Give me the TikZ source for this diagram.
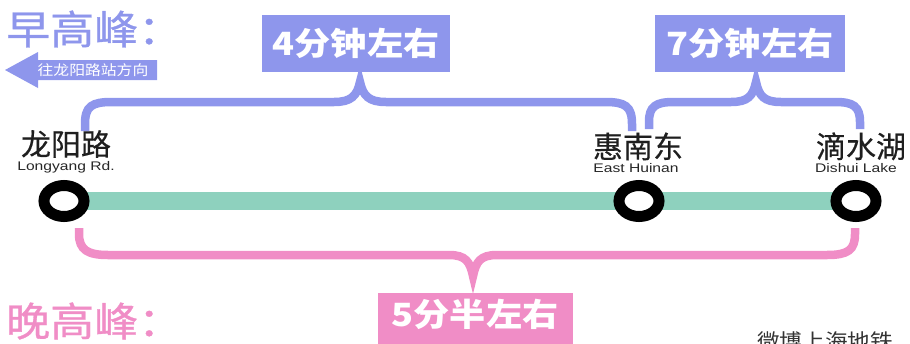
\documentclass[tikz,border=0pt]{standalone}
\usepackage{fontspec}
\setmainfont{Liberation Sans}[FakeStretch=1.25]
\newfontfamily\cjk{Noto Sans CJK SC}[FakeBold=0.4]
\newfontfamily\cjkwide{Noto Sans CJK SC}[FakeStretch=1.13]
\newfontfamily\cjkhead{Noto Sans CJK SC}[FakeStretch=1.1, FakeBold=0.8]
\usetikzlibrary{positioning,shapes.geometric,backgrounds}

\definecolor{amblue}{RGB}{142,150,236}
\definecolor{pmpink}{RGB}{240,141,198}
\definecolor{railgreen}{RGB}{142,209,190}

\tikzset{
  stop/.style={ellipse, draw=black, line width=11pt, fill=white,
    minimum width=40pt, minimum height=31pt, inner sep=0pt},
  cnname/.style={font=\cjk\fontsize{30}{30}\selectfont, inner sep=0pt, text=black!88},
  enname/.style={font=\fontsize{12.5}{12.5}\selectfont, inner sep=0pt, text=black!85},
  timebox/.style={fill=#1, text=white, font=\cjkwide\bfseries\fontsize{32}{32}\selectfont,
    minimum height=57pt, inner sep=0pt},
  peak/.style={font=\cjkhead\fontsize{40}{40}\selectfont, text=#1, inner sep=0pt, anchor=west},
  timebrace/.style={draw=#1, line width=8.5pt},
}

\begin{document}
\begin{tikzpicture}[x=1pt, y=-1pt]
  \useasboundingbox (0,0) rectangle (910,343);
  \clip (0,0) rectangle (910,343);

  % stations on the line
  \node[stop] (ly) at (64,201) {};
  \node[stop] (hn) at (639,201) {};
  \node[stop] (ds) at (856,201) {};
  \begin{scope}[on background layer]
    \draw[railgreen, line width=18pt] (ly.center) -- (ds.center);
  \end{scope}

  \node[enname, above=7pt of ly, xshift=2pt] (lyen) {Longyang Rd.};
  \node[cnname, above=3pt of lyen] (lycn) {龙阳路};
  \node[enname, above=7pt of hn, xshift=-3pt] (hnen) {East Huinan};
  \node[cnname, above=3pt of hnen, xshift=2pt] (hncn) {惠南东};
  \node[enname, above=7pt of ds] (dsen) {Dishui Lake};
  \node[cnname, above=3pt of dsen, xshift=5pt] (dscn) {滴水湖};

  % morning peak
  \node[peak=amblue] (am) at (6,29) {早高峰：};
  \fill[amblue] (5,70) -- (38,52) -- (38,60) -- (157,60) -- (157,80)
    -- (38,80) -- (38,88) -- cycle;
  \node[font=\cjkwide\fontsize{14}{14}\selectfont, text=white, inner sep=0pt]
    (amdir) at (93,70) {往龙阳路站方向};

  \draw[timebrace=amblue] (85,131) -- (85,124) .. controls (85,106) and (92,102) .. (112,102)
    -- (334,102) .. controls (351,102) and (357,96) .. (360,82)
    .. controls (363,96) and (369,102) .. (386,102) -- (605,102)
    .. controls (625,102) and (632,106) .. (632,124) -- (632,131);
  \draw[timebrace=amblue] (649,129) -- (649,122) .. controls (649,106) and (656,102) .. (674,102)
    -- (731,102) .. controls (748,102) and (753,96) .. (756,82)
    .. controls (759,96) and (764,102) .. (781,102) -- (835,102)
    .. controls (853,102) and (860,106) .. (860,122) -- (860,129);
  \coordinate (amtip1) at (360,82);
  \coordinate (amtip2) at (756,82);
  \node[timebox=amblue, minimum width=188pt, above=10pt of amtip1, xshift=-4pt] (am1) {4分钟左右};
  \node[timebox=amblue, minimum width=190pt, above=10pt of amtip2, xshift=-6pt] (am2) {7分钟左右};

  % evening peak
  \node[peak=pmpink] (pm) at (6,321) {晚高峰：};
  \draw[timebrace=pmpink] (79,228) -- (79,234) .. controls (79,250) and (88,255) .. (108,255)
    -- (449,255) .. controls (466,255) and (470,262) .. (473,276)
    .. controls (476,262) and (480,255) .. (497,255) -- (827,255)
    .. controls (848,255) and (855,250) .. (855,234) -- (855,228);
  \coordinate (pmtip) at (473,276);
  \node[timebox=pmpink, minimum width=195pt, text height=33pt, text depth=30pt,
    below=17pt of pmtip, xshift=2pt] (pm1) {5分半左右};

  \node[font=\cjkwide\fontsize{20}{20}\selectfont, text=black!80, inner sep=0pt,
    anchor=north west] (mark) at (757,331) {微博上海地铁};
\end{tikzpicture}
\end{document}
